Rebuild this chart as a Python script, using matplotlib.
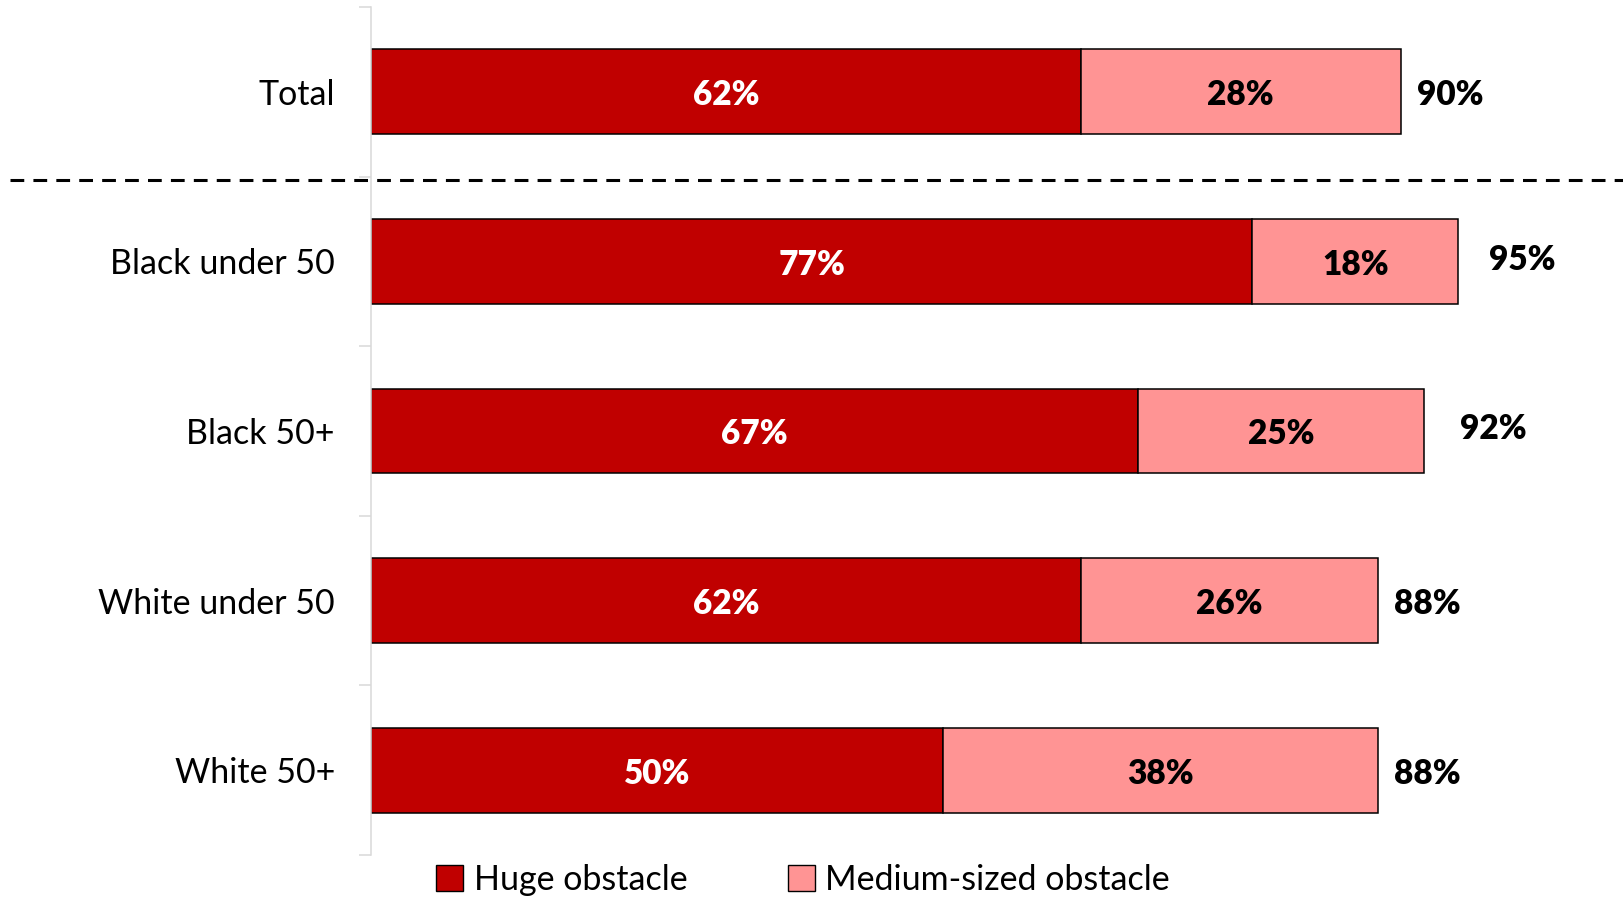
import matplotlib.pyplot as plt
import matplotlib.transforms as mtransforms
from matplotlib.patches import Patch

# data
categories = ['Total', 'Black under 50', 'Black 50+', 'White under 50', 'White 50+']
huge = [62, 77, 67, 62, 50]
medium = [28, 18, 25, 26, 38]
totals = [90, 95, 92, 88, 88]

# manual placement of the total labels (data units), as in the original
total_dx = [1.4, 2.7, 3.2, 1.4, 1.4]
total_dy = [0.02, -0.01, -0.01, 0.02, 0.02]

dark_red = '#C00000'
pink = '#FF9494'

plt.rcParams['font.family'] = ['Lato', 'DejaVu Sans']

fig = plt.figure(figsize=(16.23, 8.97), dpi=100)
ax = fig.add_axes([371 / 1623, 1 - 855 / 897, 1 - 371 / 1623, 848 / 897])

y = list(range(len(categories)))
ax.barh(y, huge, height=0.5, color=dark_red, edgecolor='black', linewidth=1.1)
ax.barh(y, medium, left=huge, height=0.5, color=pink, edgecolor='black', linewidth=1.1)

fs = 24
for i in y:
    ax.text(huge[i] / 2, i + 0.02, f'{huge[i]}%', ha='center', va='center',
            color='white', fontsize=fs, fontweight='heavy')
    ax.text(huge[i] + medium[i] / 2, i + 0.02, f'{medium[i]}%', ha='center', va='center',
            color='black', fontsize=fs, fontweight='heavy')
    ax.text(totals[i] + total_dx[i], i + total_dy[i], f'{totals[i]}%', ha='left',
            va='center', color='black', fontsize=fs, fontweight='heavy')

ax.set_xlim(0, 109.4)
ax.set_ylim(4.5, -0.5)
ax.set_yticks([i - 0.5 for i in range(len(categories) + 1)])
ax.set_yticklabels([])
ax.set_yticks(y, minor=True)
ax.set_yticklabels(categories, minor=True, fontsize=24.5)
ax.tick_params(axis='y', which='major', length=9, width=1.1, color='#D9D9D9', direction='out')
ax.tick_params(axis='y', which='minor', length=0, pad=26)
ax.xaxis.set_visible(False)
for s in ['top', 'right', 'bottom']:
    ax.spines[s].set_visible(False)
ax.spines['left'].set_color('#D9D9D9')
ax.spines['left'].set_linewidth(1.1)

# dashed separator below Total, across the whole figure
trans = mtransforms.blended_transform_factory(fig.transFigure, ax.transData)
ax.plot([10 / 1623, 1.0], [0.52, 0.52], transform=trans, color='black',
        linewidth=2.2, linestyle=(0, (4.5, 3)), clip_on=False)

handles = [Patch(facecolor=dark_red, edgecolor='black', label='Huge obstacle'),
           Patch(facecolor=pink, edgecolor='black', label='Medium-sized obstacle')]
fig.legend(handles=handles, loc='center', bbox_to_anchor=(803 / 1623, 1 - 880 / 897),
           ncol=2, frameon=False, fontsize=24.5, handlelength=0.8, handleheight=0.8,
           handletextpad=0.3, columnspacing=2.95, borderaxespad=0)

fig.savefig('out.png', dpi=100)
